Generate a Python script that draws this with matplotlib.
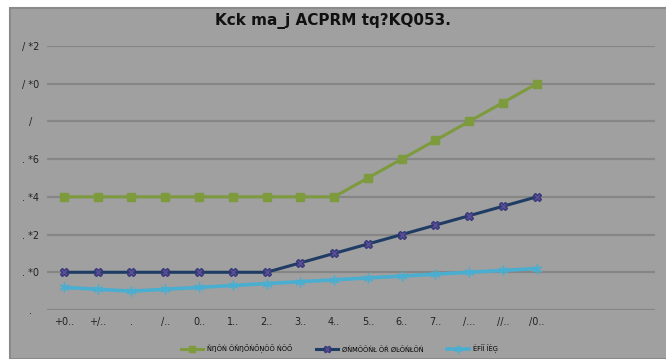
import matplotlib.pyplot as plt
from matplotlib.patches import Rectangle

# chart text as it appears in the picture
title = 'Kck ma_j ACPRM tq?KQ053.'
x_labels = ['+0..', '+/..', '.', '/..', '0..', '1..', '2..', '3..', '4..',
            '5..', '6..', '7..', '/...', '//..', '/0..']
y_ticks = [0, 0.2, 0.4, 0.6, 0.8, 1.0, 1.2, 1.4]
y_labels = ['.', '. *0', '. *2', '. *4', '. *6', '/', '/ *0', '/ *2']
series_names = ['ŇŊŎŃ ŎŇŊŐŃŐŅŎŐ ŃŎŐ', 'ØŃMŎŎŃŁ ŎŔ ØĿŎŃŁŎŃ', 'ĖFĨĨ ĨĖĢ']

# values
green = [0.6, 0.6, 0.6, 0.6, 0.6, 0.6, 0.6, 0.6, 0.6, 0.7, 0.8, 0.9, 1.0, 1.1, 1.2]
navy = [0.2, 0.2, 0.2, 0.2, 0.2, 0.2, 0.2, 0.25, 0.3, 0.35, 0.4, 0.45, 0.5, 0.55, 0.6]
cyan = [0.12, 0.11, 0.10, 0.11, 0.12, 0.13, 0.14, 0.15, 0.16, 0.17, 0.18, 0.19, 0.20, 0.21, 0.22]

bg = '#a0a0a0'
grid_col = '#868686'

fig = plt.figure(figsize=(6.66, 3.59), dpi=100)
fig.patch.set_facecolor('white')
# chart area box
fig.patches.append(Rectangle((10/666, 0), 1, 1 - 8/359, transform=fig.transFigure,
                             facecolor=bg, edgecolor='#8a8a8a', linewidth=1.5, zorder=-10))

ax = fig.add_axes([47/666, 1 - 310/359, 608/666, 264/359])
ax.set_facecolor(bg)
for s in ax.spines.values():
    s.set_visible(False)

x = list(range(len(x_labels)))
ax.plot(x, green, color='#7d9a3c', lw=2.2, marker='s', ms=6, mfc='#7d9a3c', mec='#7d9a3c',
        label=series_names[0], zorder=3)
ax.plot(x, navy, color='#1f3c65', lw=2.2, marker='X', ms=6, mfc='#5a4f96', mec='#3a3a7a',
        label=series_names[1], zorder=3)
ax.plot(x, cyan, color='#4aaed0', lw=2.6, marker=(6, 2, 0), ms=7, mec='#4aaed0',
        label=series_names[2], zorder=3)

ax.set_xlim(-0.5, 17.5)
ax.set_ylim(0, 1.4)
ax.set_yticks(y_ticks)
ax.set_yticklabels(y_labels, fontsize=7, color='#222222')
ax.set_xticks(x)
ax.set_xticklabels(x_labels, fontsize=7, color='#222222')
ax.tick_params(length=0, pad=5)
ax.tick_params(axis='y', pad=12)
for lab in ax.get_yticklabels():
    lab.set_horizontalalignment('center')
ax.grid(axis='y', color=grid_col, lw=1.6)
ax.set_axisbelow(True)

fig.text(0.5, 1 - 21/359, title, ha='center', va='center', fontsize=11,
         fontweight='bold', color='#111111')

fig.legend(loc='center', bbox_to_anchor=(0.51, 1 - 349/359), ncol=3, frameon=False,
           fontsize=4.8, handlelength=3.3, handletextpad=0.6, columnspacing=3.5,
           markerscale=0.8)

fig.savefig('out.png', dpi=100, facecolor=fig.get_facecolor())
